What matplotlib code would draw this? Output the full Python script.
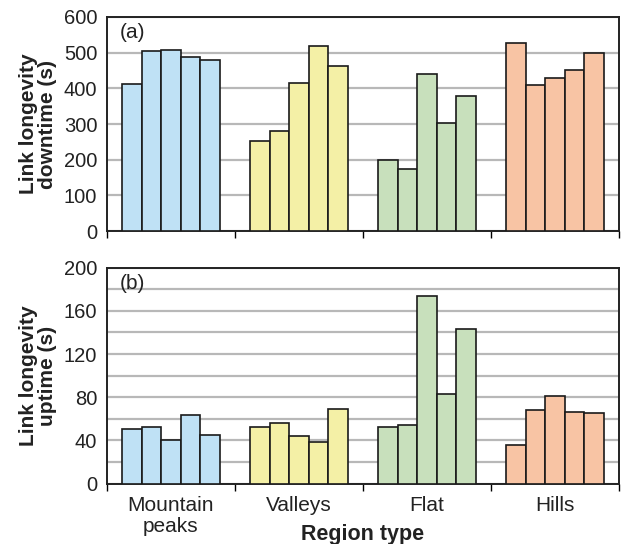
import numpy as np
import matplotlib.pyplot as plt
from matplotlib.ticker import MultipleLocator, NullFormatter

plt.rcParams['font.family'] = ['Liberation Sans', 'DejaVu Sans']

regions = ["Mountain\npeaks", "Valleys", "Flat", "Hills"]
colors = ["#bfe1f5", "#f4f0a6", "#c8e0bc", "#f8c4a4"]

# five runs per region type
downtime = [
    [412, 504, 508, 488, 479],
    [253, 281, 415, 518, 462],
    [199, 175, 441, 303, 379],
    [528, 409, 428, 450, 500],
]
uptime = [
    [51, 52, 40, 64, 45],
    [52, 56, 44, 39, 69],
    [52, 54, 174, 83, 143],
    [36, 68, 81, 66, 65],
]

fig = plt.figure(figsize=(6.22, 5.44), dpi=100)
ax1 = fig.add_axes([0.172, 0.575, 0.823, 0.394])
ax2 = fig.add_axes([0.172, 0.111, 0.823, 0.397])

width = 0.152
offsets = (np.arange(5) - 2) * width


def draw(ax, data, ymax, major, minor, label, tag):
    ax.set_axisbelow(True)
    for i, vals in enumerate(data):
        ax.bar(i + offsets, vals, width, color=colors[i], edgecolor="#1a1a1a",
               linewidth=1.2, zorder=3)
    ax.set_xlim(-0.5, 3.5)
    ax.set_ylim(0, ymax)
    ax.yaxis.set_major_locator(MultipleLocator(major))
    ax.yaxis.set_minor_locator(MultipleLocator(minor))
    ax.yaxis.set_minor_formatter(NullFormatter())
    ax.grid(axis="y", which="both", color="#b8b8b8", linewidth=1.6, zorder=0)
    ax.set_xticks([-0.5, 0.5, 1.5, 2.5, 3.5])
    ax.set_xticklabels([])
    ax.tick_params(axis="x", which="major", direction="out", length=5, width=1)
    ax.tick_params(axis="y", which="both", length=0, pad=7,
                   labelsize=14.5, colors="#222222")
    for s in ax.spines.values():
        s.set_linewidth(1.4)
        s.set_color("#222222")
    ax.set_ylabel(label, fontsize=15, fontweight="bold", labelpad=5,
                  linespacing=1.02, color="#222222")
    ax.text(0.024, 0.97, tag, transform=ax.transAxes, fontsize=15,
            va="top", ha="left", color="#222222")


draw(ax1, downtime, 600, 100, 100, "Link longevity\ndowntime (s)", "(a)")
draw(ax2, uptime, 200, 40, 20, "Link longevity\nuptime (s)", "(b)")

ax2.set_xticks(range(4), minor=True)
ax2.set_xticklabels(regions, minor=True, fontsize=15, linespacing=1.12)
ax2.tick_params(axis="x", which="minor", length=0, pad=9, colors="#222222")
ax2.set_xlabel("Region type", fontsize=15.5, fontweight="bold",
               va="center", color="#222222")
ax2.xaxis.set_label_coords(0.5, -0.235)

fig.savefig("out.png", dpi=100)
